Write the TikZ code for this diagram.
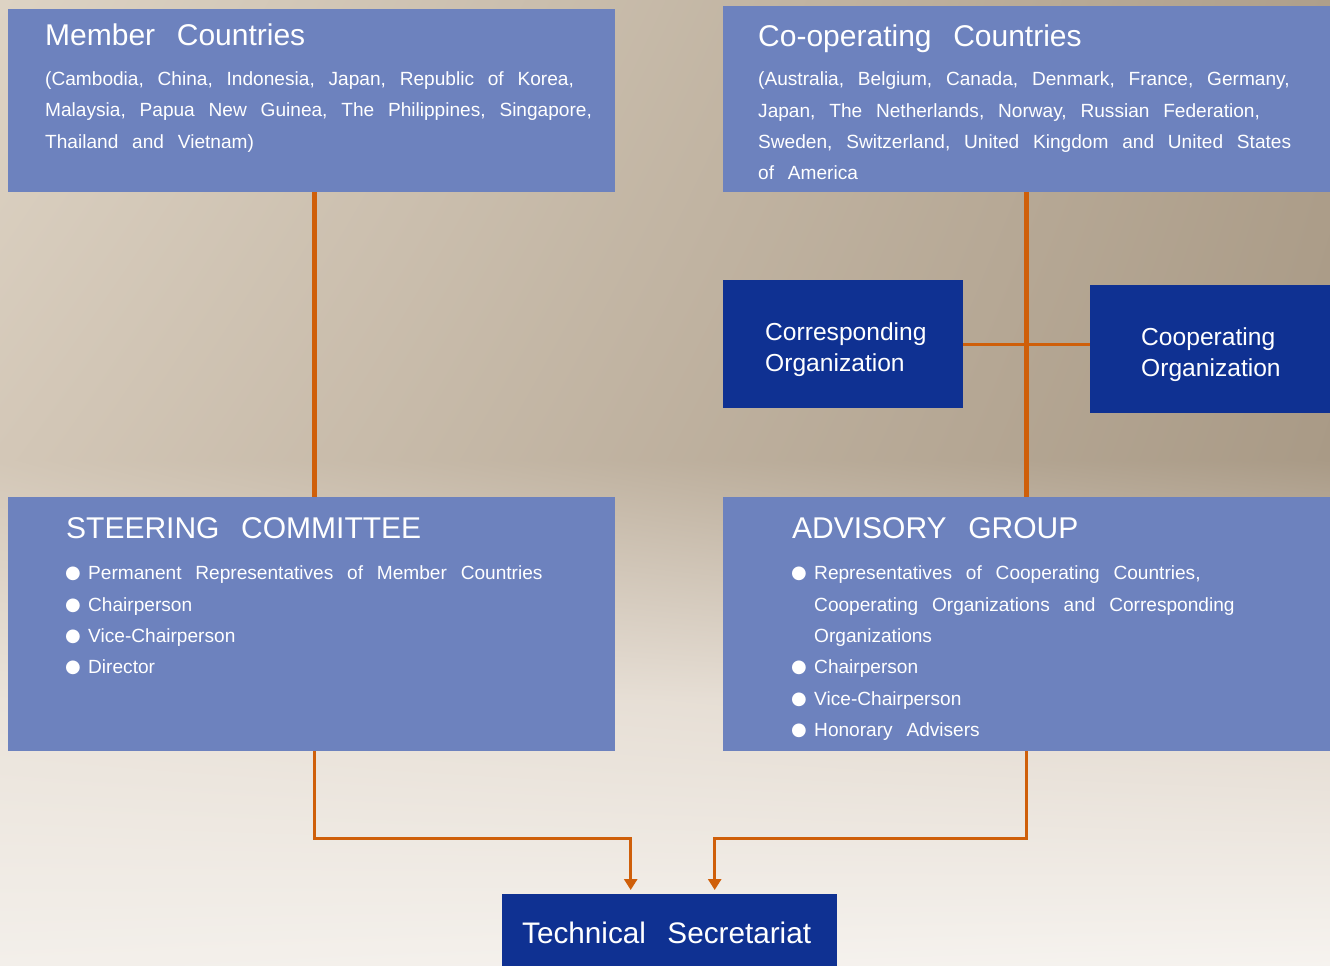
\documentclass[tikz,border=0pt]{standalone}
\usepackage{fontspec}
\setmainfont{Liberation Sans}[WordSpace=2.6]
\newfontfamily\dejavu{DejaVu Sans}
\usetikzlibrary{arrows.meta,calc,shadings}
\definecolor{lightbox}{HTML}{6D82BE}
\definecolor{darkbox}{HTML}{0F3192}
\definecolor{conn}{HTML}{CF5F0A}
\definecolor{bgA}{HTML}{DDD3C4}
\definecolor{bgB}{HTML}{AE9F8B}
\definecolor{bgC}{HTML}{D3C7B7}
\definecolor{bgD}{HTML}{A99A86}
\definecolor{bgE}{HTML}{EAE3DA}
\definecolor{bgF}{HTML}{E3DAD0}
\definecolor{bgG}{HTML}{F3EFEA}
\definecolor{bgH}{HTML}{F6F3EF}
\begin{document}
\begin{tikzpicture}[x=1pt,y=-1pt,
  lbox/.style={fill=lightbox, draw=none, inner sep=0pt, anchor=north west},
  dbox/.style={fill=darkbox, draw=none, inner sep=0pt, anchor=north west},
  ttl/.style={text=white, anchor=base west, inner sep=0pt, font=\fontsize{30}{30}\selectfont},
  body/.style={text=white, anchor=base west, inner sep=0pt, font=\fontsize{19.1}{19.1}\selectfont},
  org/.style={text=white, anchor=base west, inner sep=0pt, font=\fontsize{24.6}{24.6}\selectfont},
  bul/.style={text=white, anchor=base, inner sep=0pt, font=\dejavu\fontsize{18}{18}\selectfont},
  wide/.style={draw=conn, line width=5pt},
  thin/.style={draw=conn, line width=3pt},
  arr/.style={thin, -{Triangle[length=11pt,width=13pt]}}
]
\useasboundingbox (0,0) rectangle (1330,966);
% background
\shade[upper left=bgA, upper right=bgB, lower left=bgC, lower right=bgD] (0,0) rectangle (1330,461);
\shade[upper left=bgC, upper right=bgD, lower left=bgE, lower right=bgF] (0,460) rectangle (1330,701);
\shade[upper left=bgE, upper right=bgF, lower left=bgG, lower right=bgH] (0,700) rectangle (1330,966);

% boxes
\node[lbox, minimum width=607pt, minimum height=183pt] (mc) at (8,9) {};
\node[lbox, minimum width=607pt, minimum height=186pt] (cc) at (723,6) {};
\node[dbox, minimum width=240pt, minimum height=128pt] (corr) at (723,280) {};
\node[dbox, minimum width=240pt, minimum height=128pt] (coop) at (1090,285) {};
\node[lbox, minimum width=607pt, minimum height=254pt] (sc) at (8,497) {};
\node[lbox, minimum width=607pt, minimum height=254pt] (ag) at (723,497) {};
\node[dbox, minimum width=335pt, minimum height=72pt] (ts) at (502,894) {};

% connectors
\draw[wide] ([xshift=2.5pt]mc.south) -- ([xshift=2.5pt]sc.north);
\draw[wide] (cc.south) -- (ag.north);
\draw[thin] (corr.east) -- (corr.east -| coop.west);
\draw[arr] ([xshift=2.5pt]sc.south) |- ($(ts.north)+(-39,-56)$) -- ($(ts.north)+(-39,-4)$);
\draw[arr] (ag.south) |- ($(ts.north)+(45,-56)$) -- ($(ts.north)+(45,-4)$);

% Member countries
\node[ttl] (mct) at (45,46) {Member Countries};
\node[body] (mc1) at (45,85) {(Cambodia, China, Indonesia, Japan, Republic of Korea,};
\node[body] (mc2) at (45,116) {Malaysia, Papua New Guinea, The Philippines, Singapore,};
\node[body] (mc3) at (45,148) {Thailand and Vietnam)};

% Co-operating countries
\node[ttl] (cct) at (758,47) {Co-operating Countries};
\node[body] (cc1) at (758,85) {(Australia, Belgium, Canada, Denmark, France, Germany,};
\node[body] (cc2) at (758,117) {Japan, The Netherlands, Norway, Russian Federation,};
\node[body] (cc3) at (758,148) {Sweden, Switzerland, United Kingdom and United States};
\node[body] (cc4) at (758,179) {of America};

% organizations
\node[org] (corr1) at (765,340) {Corresponding};
\node[org] (corr2) at (765,371) {Organization};
\node[org] (coop1) at (1141,345) {Cooperating};
\node[org] (coop2) at (1141,376) {Organization};

% Steering committee
\node[ttl] (sct) at (66,538) {STEERING COMMITTEE};
\node[bul] (sb1) at (73,578) {●};
\node[body] (s1) at (88,579) {Permanent Representatives of Member Countries};
\node[bul] (sb2) at (73,610) {●};
\node[body] (s2) at (88,611) {Chairperson};
\node[bul] (sb3) at (73,641) {●};
\node[body] (s3) at (88,642) {Vice-Chairperson};
\node[bul] (sb4) at (73,672) {●};
\node[body] (s4) at (88,673) {Director};

% Advisory group
\node[ttl] (agt) at (792,538) {ADVISORY GROUP};
\node[bul] (ab1) at (799,578) {●};
\node[body] (a1) at (814,579) {Representatives of Cooperating Countries,};
\node[body] (a1b) at (814,611) {Cooperating Organizations and Corresponding};
\node[body] (a1c) at (814,642) {Organizations};
\node[bul] (ab2) at (799,672) {●};
\node[body] (a2) at (814,673) {Chairperson};
\node[bul] (ab3) at (799,704) {●};
\node[body] (a3) at (814,705) {Vice-Chairperson};
\node[bul] (ab4) at (799,735) {●};
\node[body] (a4) at (814,736) {Honorary Advisers};

% Technical secretariat
\node[ttl, font=\fontsize{29.7}{29.7}\selectfont] (tst) at (522,943) {Technical Secretariat};
\end{tikzpicture}
\end{document}
